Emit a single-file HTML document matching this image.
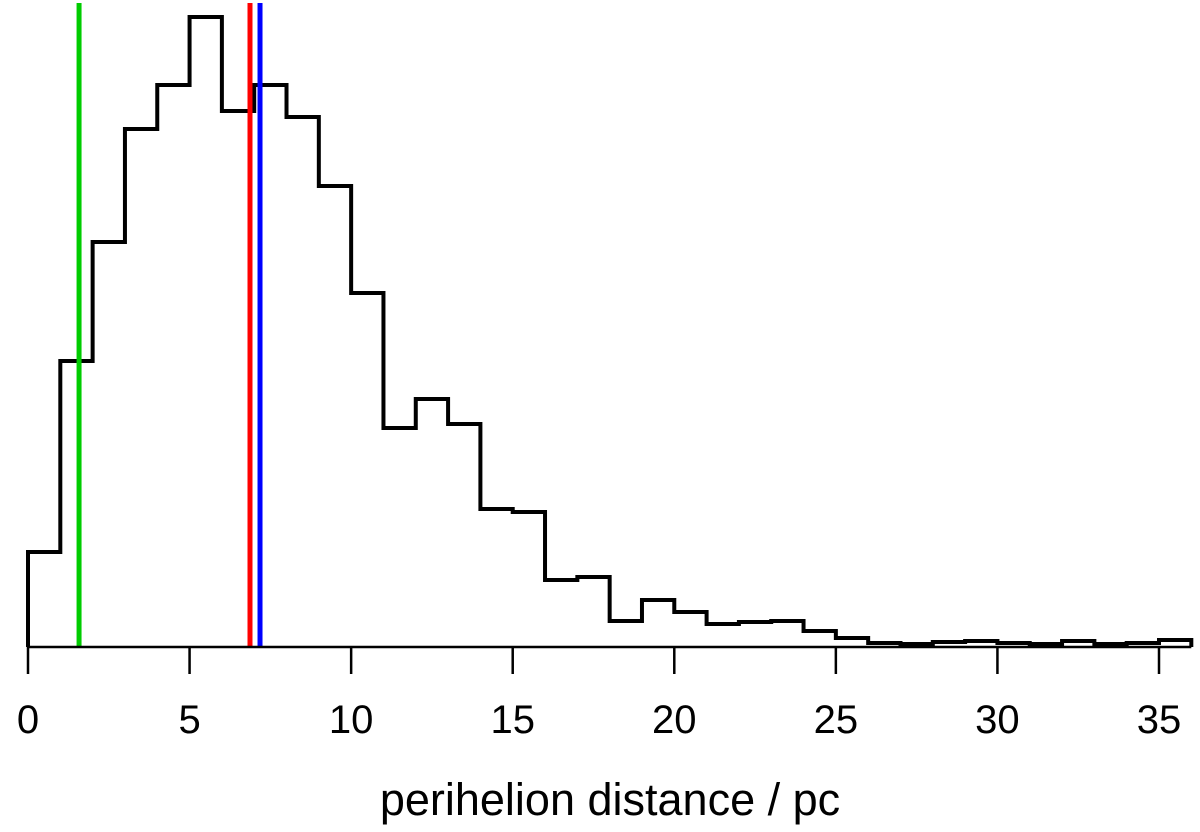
<!DOCTYPE html>
<html><head><meta charset="utf-8"><style>
body{margin:0;background:#fff}
svg{display:block;font-family:"Liberation Sans",sans-serif}
</style></head><body>
<svg id="chart" width="1200" height="832" viewBox="0 0 1200 832"></svg>
<script>
const binEdgesStart = 0;
const binWidth = 1;
const counts = [95,286,405,518,562,630,536,562,530,461,354,219,248,223,138,135,67,70,26,47,35,23,25,26,16,9,4,3,5,6,4,3,6,3,4,7];
const tickValues = [0,5,10,15,20,25,30,35];
const markerValues = [1.58, 6.87, 7.18];
const markerColors = ['#00cc00','#ff0000','#0000ff'];
const ns='http://www.w3.org/2000/svg';
const svg=document.getElementById('chart');
const x0=28, pxPerUnit=(1159-28)/35, baseY=647;
const sx=v=>x0+v*pxPerUnit;
const sy=c=>baseY-c;
function mk(tag,attrs){const e=document.createElementNS(ns,tag);for(const k in attrs)e.setAttribute(k,attrs[k]);svg.appendChild(e);return e;}
let d=`M${sx(binEdgesStart)},${baseY}`;
counts.forEach((c,i)=>{const a=sx(binEdgesStart+i*binWidth),b=sx(binEdgesStart+(i+1)*binWidth);d+=` L${a},${sy(c)} L${b},${sy(c)}`;});
d+=` L${sx(binEdgesStart+counts.length*binWidth)},${baseY}`;
const h=mk('path',{d:d,fill:'none',stroke:'#000','stroke-width':4,'stroke-linejoin':'miter'});


markerValues.forEach((v,i)=>{const l=mk('line',{x1:sx(v),x2:sx(v),y1:3,y2:baseY,stroke:markerColors[i],'stroke-width':5});

});
const ax=mk('line',{x1:sx(0),x2:sx(36),y1:baseY,y2:baseY,stroke:'#000','stroke-width':2.5});


tickValues.forEach(t=>{const tk=mk('line',{x1:sx(t),x2:sx(t),y1:baseY,y2:674,stroke:'#000','stroke-width':2.5});


const tx=mk('text',{x:sx(t),y:733,'text-anchor':'middle','font-size':40});tx.textContent=t;

});
const ti=mk('text',{x:610,y:815,'text-anchor':'middle','font-size':45});ti.textContent='perihelion distance / pc';


</script>
</body></html>
